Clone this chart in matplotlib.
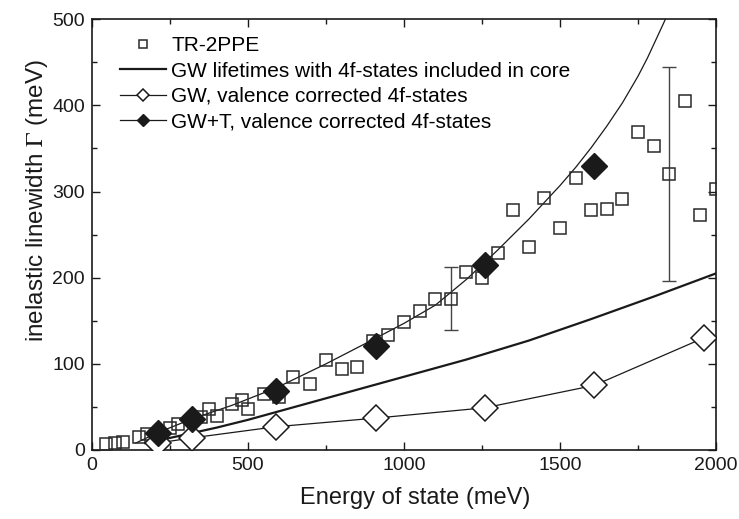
import numpy as np
import matplotlib
matplotlib.use("Agg")
import matplotlib.pyplot as plt
from matplotlib.ticker import MultipleLocator

plt.rcParams['font.family'] = ['Liberation Sans', 'DejaVu Sans']
plt.rcParams['mathtext.fontset'] = 'stix'

# ---------------- data ----------------
# TR-2PPE measurements (open squares)
ppe_E = [45, 75, 100, 150, 175, 250, 275, 350, 375, 400, 450, 480, 500, 550, 600,
         645, 700, 750, 800, 850, 900, 950, 1000, 1050, 1100, 1150, 1200, 1250,
         1300, 1350, 1400, 1450, 1500, 1550, 1600, 1650, 1700, 1750, 1800, 1850,
         1900, 1950, 2000]
ppe_G = [6.6, 8.5, 9, 15.5, 19, 25, 30, 38, 47.5, 40, 53, 58, 48, 65, 61,
         85, 77, 104, 94, 96, 126, 133, 148, 161, 175, 175, 207, 200,
         229, 278, 236, 293, 258, 316, 278, 280, 291, 369, 353, 320,
         405, 273, 303]
# error bars on two of the points
err_E = [1150, 1850]
err_G = [175, 320]
err_lo = [139, 196]
err_hi = [212, 444]

# GW lifetimes, 4f-states in core (thick line)
core_E = [170, 200, 300, 400, 500, 600, 700, 800, 900, 1000, 1200, 1400, 1600, 1800, 2000]
core_G = [8, 10, 18, 26, 35, 45, 55, 65, 75, 85, 105, 127, 152, 178, 205]

# GW, valence corrected 4f-states (open diamonds)
gw_E = [210, 320, 590, 910, 1260, 1610, 1960]
gw_G = [8, 14, 27, 37, 49, 75, 130]

# GW+T, valence corrected 4f-states (filled diamonds)
gwt_E = [210, 320, 590, 910, 1260, 1610]
gwt_G = [20, 36, 69, 121, 215, 330]

# thin guide curve through the GW+T points
fit_E = [140, 210, 320, 450, 590, 750, 900, 1000, 1100, 1200, 1300, 1400, 1500,
         1550, 1600, 1650, 1700, 1750, 1780, 1830, 1860]
fit_G = [8, 20, 36, 52, 72, 100, 128, 147, 168, 198, 232, 268, 307,
         328, 351, 376, 403, 434, 455, 494, 518]

# ---------------- plot ----------------
fig = plt.figure(figsize=(7.39, 5.19), dpi=100)
ax = fig.add_axes([0.1245, 0.133, 0.8445, 0.830])

ax.plot(fit_E, fit_G, color='#1a1a1a', lw=0.9, zorder=2)
ax.plot(core_E, core_G, color='#1a1a1a', lw=1.6, zorder=2,
        label='GW lifetimes with 4f-states included in core')

# error bars
yerr = [np.array(err_G) - np.array(err_lo), np.array(err_hi) - np.array(err_G)]
ax.errorbar(err_E, err_G, yerr=yerr, fmt='none', ecolor='#444444', elinewidth=1.0,
            capsize=5, capthick=1.0, zorder=2)

ax.plot(ppe_E, ppe_G, 's', ms=8.6, mfc='none', mec='#2a2a2a', mew=1.1,
        zorder=3, label='TR-2PPE')

ax.plot(gw_E, gw_G, '-D', color='#1a1a1a', lw=0.9, ms=13, mfc='white',
        mec='#1a1a1a', mew=1.1, zorder=4, label='GW, valence corrected 4f-states')
ax.plot(gwt_E, gwt_G, 'D', color='#1a1a1a', lw=0.9, ms=13, mfc='#1a1a1a',
        mec='#1a1a1a', zorder=5)
# legend proxy for GW+T (line + filled diamond)
ax.plot([], [], '-D', color='#1a1a1a', lw=0.9, ms=13, mfc='#1a1a1a',
        label='GW+T, valence corrected 4f-states')

ax.set_xlim(0, 2000)
ax.set_ylim(0, 500)
ax.xaxis.set_major_locator(MultipleLocator(500))
ax.xaxis.set_minor_locator(MultipleLocator(250))
ax.yaxis.set_major_locator(MultipleLocator(100))
ax.yaxis.set_minor_locator(MultipleLocator(50))
ax.tick_params(which='both', direction='in', top=True, right=True, labelsize=14,
               width=1.0, colors='#1a1a1a')
ax.tick_params(which='major', length=5.5, pad=5)
ax.tick_params(which='minor', length=3.5)
for s in ax.spines.values():
    s.set_linewidth(1.2)
    s.set_color('#1a1a1a')

ax.set_xlabel('Energy of state (meV)', fontsize=17, color='#1a1a1a')
ax.set_ylabel(r'inelastic linewidth $\Gamma$ (meV)', fontsize=17.5, color='#1a1a1a')
ax.xaxis.set_label_coords(0.518, -0.085)
ax.yaxis.set_label_coords(-0.068, 0.58)

handles, labels = ax.get_legend_handles_labels()
order = [labels.index(l) for l in ['TR-2PPE',
                                   'GW lifetimes with 4f-states included in core',
                                   'GW, valence corrected 4f-states',
                                   'GW+T, valence corrected 4f-states']]
leg = ax.legend([handles[i] for i in order], [labels[i] for i in order],
                loc='upper left', bbox_to_anchor=(0.045, 0.960), frameon=False,
                fontsize=15, borderpad=0, borderaxespad=0, labelspacing=0.3,
                handlelength=2.2, handletextpad=0.25)
for h in leg.legend_handles:
    if h.get_marker() == 's':
        h.set_markersize(6)
    elif h.get_marker() == 'D':
        h.set_markersize(6.5)

fig.savefig('out.png', dpi=100)
